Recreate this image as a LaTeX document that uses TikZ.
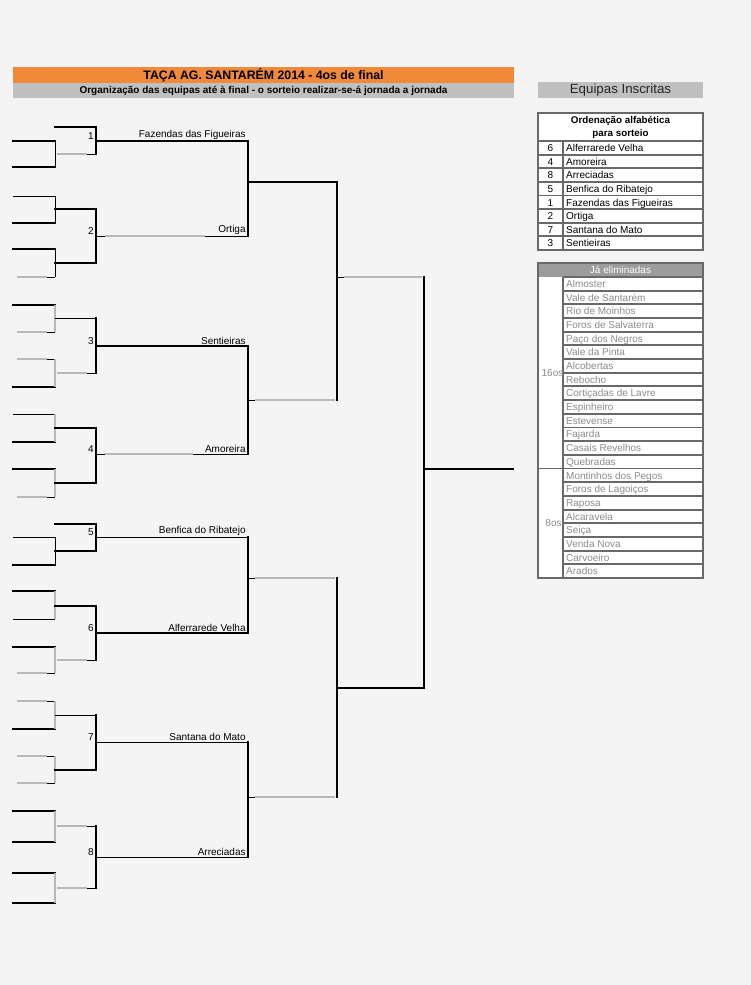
\documentclass[tikz,border=0pt]{standalone}
\usepackage{fontspec}
\setmainfont{Liberation Sans}
\usetikzlibrary{positioning}

\definecolor{bggray}{RGB}{244,244,244}
\definecolor{taxorange}{RGB}{240,137,58}
\definecolor{barsilver}{RGB}{192,192,192}
\definecolor{lostgray}{RGB}{184,184,184}
\definecolor{gridgray}{RGB}{105,105,105}
\definecolor{outgray}{RGB}{140,140,140}
\definecolor{headgray}{RGB}{156,156,156}

\begin{document}
\begin{tikzpicture}[x=1pt,y=-1pt,
    win/.style={line width=2.4pt,black,line cap=rect},
    fine/.style={line width=0.9pt,black},
    lost/.style={line width=2pt,lostgray},
    drop/.style={line width=1.4pt,lostgray},
    team/.style={anchor=south east,inner sep=1.2pt,font=\fontsize{10}{12}\selectfont},
    seed/.style={anchor=south east,inner sep=1.2pt,font=\fontsize{10}{12}\selectfont},
    cell/.style={line width=1.9pt,gridgray},
    entry/.style={anchor=base west,inner sep=0pt,font=\fontsize{10}{12}\selectfont},
  ]
  \fill[bggray] (0,0) rectangle (751,985);
  \useasboundingbox (0,0) rectangle (751,985);

  % cabecalho
  \fill[taxorange] (13,67) rectangle (514,82.5);
  \fill[barsilver] (13,82.5) rectangle (514,98);
  \node[font=\fontsize{12.3}{14}\selectfont\bfseries] (title) at (263.5,75) {TAÇA AG. SANTARÉM 2014 - 4os de final};
  \node[font=\fontsize{10}{12}\selectfont\bfseries] (subtitle) at (263.5,90.5) {Organização das equipas até à final - o sorteio realizar-se-á jornada a jornada};

  % primeira eliminatoria (lado esquerdo)
  \foreach \y in {141,167,223,249,305,387,442,469,565,591,647,729,811,842,873,903}
    \draw[win] (13,\y) -- (55,\y);
  \foreach \y in {196,414,537,619}
    \draw[fine] (13,\y) -- (55,\y);
  \foreach \y in {277,332,359,497,673,701,756,783} {
    \draw[lost] (17,\y) -- (47,\y);
    \draw[fine] (47,\y) -- (55,\y);
  }
  \foreach \a/\b in {141/167,196/223,249/277,537/565}
    \draw[fine] (55,\a) -- (55,\b);
  \foreach \a/\b in {305/332,359/387,414/442,469/497,591/619,647/673,701/729,756/783,811/842,873/903}
    \draw[drop] (55,\a) -- (55,\b);

  % 16 avos
  \foreach \y in {127,209,263,428,483,524,551,606,770}
    \draw[win] (55,\y) -- (96,\y);
  \foreach \y in {318,715}
    \draw[fine] (55,\y) -- (96,\y);
  \foreach \y in {154,373,660,826,888} {
    \draw[lost] (57,\y) -- (87,\y);
    \draw[fine] (87,\y) -- (96,\y);
  }
  \foreach \a/\b in {127/154,209/263,318/373,428/483,524/551,606/660,715/770,826/888}
    \draw[win] (96,\a) -- (96,\b);

  % 8 avos
  \foreach \y in {141,346,633}
    \draw[win] (96,\y) -- (248,\y);
  \foreach \y in {537,742,857}
    \draw[fine] (96,\y) -- (248,\y);
  \draw[fine] (96,236) -- (105,236);
  \draw[lost] (105,236) -- (205,236);
  \draw[fine] (205,236) -- (248,236);
  \draw[fine] (96,454) -- (105,454);
  \draw[lost] (105,454) -- (193,454);
  \draw[fine] (193,454) -- (248,454);
  \foreach \a/\b in {141/236,346/454,537/633,742/857}
    \draw[win] (248,\a) -- (248,\b);

  % numeros dos jogos
  \node[seed] (m1) at (95,141) {1};
  \node[seed] (m2) at (95,236) {2};
  \node[seed] (m3) at (95,346) {3};
  \node[seed] (m4) at (95,454) {4};
  \node[seed] (m5) at (95,537) {5};
  \node[seed] (m6) at (95,633) {6};
  \node[seed] (m7) at (95,742) {7};
  \node[seed] (m8) at (95,857) {8};

  % equipas apuradas
  \node[team] (fazendas) at (247,141) {Fazendas das Figueiras};
  \node[team] (ortiga) at (247,236) {Ortiga};
  \node[team] (sentieiras) at (247,346) {Sentieiras};
  \node[team] (amoreira) at (247,454) {Amoreira};
  \node[team] (benfica) at (247,537) {Benfica do Ribatejo};
  \node[team] (alferrarede) at (247,633) {Alferrarede Velha};
  \node[team] (santana) at (247,742) {Santana do Mato};
  \node[team] (arreciadas) at (247,857) {Arreciadas};

  % quartos, meias e final
  \draw[win] (248,182) -- (337,182);
  \foreach \y in {400,578,797} {
    \draw[fine] (248,\y) -- (255,\y);
    \draw[lost] (255,\y) -- (335,\y);
  }
  \draw[win] (337,182) -- (337,400);
  \draw[win] (337,578) -- (337,797);
  \draw[fine] (337,277) -- (344,277);
  \draw[lost] (344,277) -- (422,277);
  \draw[win] (337,688) -- (424,688);
  \draw[win] (424,277) -- (424,688);
  \draw[win] (424,469) -- (513,469);

  % equipas inscritas
  \fill[barsilver] (538,82) rectangle (703,98);
  \node[font=\fontsize{13.3}{15}\selectfont,text=black!85] (inscritas) at (620.5,90) {Equipas Inscritas};
  \fill[white] (538,113) rectangle (703,250);
  \node[font=\fontsize{9.8}{13}\selectfont\bfseries,align=center] (ordem) at (620.5,127) {Ordenação alfabética\\para sorteio};
  \foreach \n/\t [count=\i, evaluate=\i as \yy using 141+(\i-1)*13.625] in
      {6/Alferrarede Velha,4/Amoreira,8/Arreciadas,5/Benfica do Ribatejo,1/Fazendas das Figueiras,2/Ortiga,7/Santana do Mato,3/Sentieiras} {
    \draw[cell] (538,\yy) -- (703,\yy);
    \node[entry,anchor=base] at (550.5,\yy+10.5) {\n};
    \node[entry] at (566,\yy+10.5) {\t};
  }
  \draw[cell] (563,141) -- (563,250);
  \draw[cell] (538,113) rectangle (703,250);

  % ja eliminadas
  \fill[headgray] (538,263) rectangle (703,277);
  \node[font=\fontsize{10}{12}\selectfont,text=white] (eliminadas) at (620.5,270) {Já eliminadas};
  \fill[white] (538,277) rectangle (703,578);
  \foreach \t [count=\i, evaluate=\i as \yy using 277+(\i-1)*13.68] in
      {Almoster,Vale de Santarém,Rio de Moinhos,Foros de Salvaterra,Paço dos Negros,Vale da Pinta,Alcobertas,Rebocho,Cortiçadas de Lavre,Espinheiro,Estevense,Fajarda,Casais Revelhos,Quebradas,Montinhos dos Pegos,Foros de Lagoiços,Raposa,Alcaravela,Seiça,Venda Nova,Carvoeiro,Arados} {
    \draw[cell] (563,\yy) -- (703,\yy);
    \node[entry,text=outgray] at (566,\yy+10.5) {\t};
  }
  \draw[cell] (538,468.5) -- (563,468.5);
  \draw[cell] (563,277) -- (563,578);
  \draw[cell] (538,263) rectangle (703,578);
  \node[font=\fontsize{10}{12}\selectfont,text=outgray,inner sep=0pt] (dezasseis) at (552.5,373) {16os};
  \node[font=\fontsize{10}{12}\selectfont,text=outgray,inner sep=0pt] (oitavos) at (553.5,523) {8os};
\end{tikzpicture}
\end{document}
